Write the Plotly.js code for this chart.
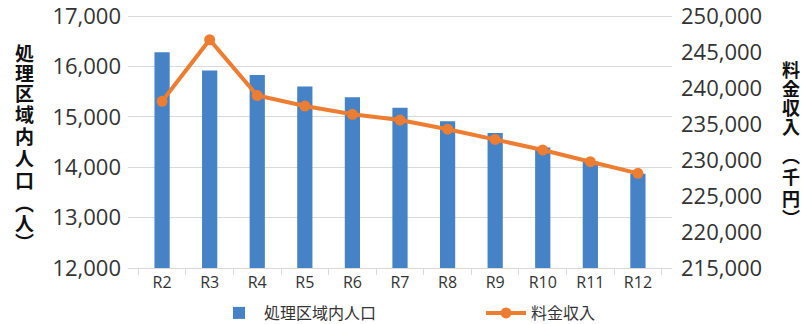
<!DOCTYPE html>
<html><head><meta charset="utf-8">
<script src="https://cdn.plot.ly/plotly-3.0.1.min.js"></script>
<style>html,body{margin:0;padding:0;background:#fff}#chart{width:802px;height:324px}</style>
</head><body><div id="chart"></div>
<script>
const categories = ['R2','R3','R4','R5','R6','R7','R8','R9','R10','R11','R12'];
const population = [16280,15920,15830,15600,15390,15180,14910,14680,14390,14120,13870];
const revenue = [238150,246700,238950,237500,236350,235550,234280,232850,231390,229760,228150];
const popTicks = [12000,13000,14000,15000,16000,17000];
const revTicks = [215000,220000,225000,230000,235000,240000,245000,250000];
const popName = '処理区域内人口';
const revName = '料金収入';
const leftTitle = ['処','理','区','域','内','人','口','︵','人','︶'];
const rightTitle = ['料','金','収','入','︵','千','円','︶'];

const cjk = '"Noto Sans CJK JP", "Noto Sans", sans-serif';
const latin = '"Open Sans", "Noto Sans", sans-serif';

const W = 802, H = 324, mL = 128, mR = 130, mT = 13, mB = 56;
const plotW = W - mL - mR, plotH = H - mT - mB;
const span1 = 5000 * plotH / 252, span2 = 35000 * plotH / 252;
const toPX = px => (px - mL) / plotW;
const toPY = py => (H - mB - py) / plotH;

// vertical title character cell centres (pixels from top)
const leftPos = [52.5, 72.5, 92.5, 113, 135, 157, 179, 202, 222, 241];
const rightPos = [69, 88.5, 107, 125.5, 155, 176.5, 198, 217];

const traces = [
  {type:'bar', x:categories, y:population, name:popName, marker:{color:'#4682c6'}, yaxis:'y'},
  {type:'scatter', mode:'lines+markers', x:categories, y:revenue, name:revName, yaxis:'y2',
   line:{color:'#ed7d31', width:4}, marker:{color:'#ed7d31', size:11}}
];

const annotations = [];
leftTitle.forEach((ch, i) => annotations.push({
  xref:'paper', yref:'paper', x:toPX(24), y:toPY(leftPos[i]),
  xanchor:'center', yanchor:'middle', showarrow:false,
  text:'<b>' + ch + '</b>', font:{family:cjk, size:19, color:'#111'}
}));
rightTitle.forEach((ch, i) => annotations.push({
  xref:'paper', yref:'paper', x:toPX(790.5), y:toPY(rightPos[i]),
  xanchor:'center', yanchor:'middle', showarrow:false,
  text:'<b>' + ch + '</b>', font:{family:cjk, size:18, color:'#111'}
}));

const layout = {
  width:W, height:H,
  margin:{l:mL, r:mR, t:mT, b:mB},
  paper_bgcolor:'#fff', plot_bgcolor:'#fff',
  bargap:0.68,
  showlegend:true,
  legend:{orientation:'h', xref:'container', yref:'container', x:214 / W, xanchor:'left',
          y:(H - 313) / H, yanchor:'middle', entrywidth:212,
          font:{family:cjk, size:16, color:'#333'}, itemwidth:40, traceorder:'normal'},
  xaxis:{type:'category', showline:true, linecolor:'#d9d9d9', linewidth:1,
         ticks:'outside', tickson:'boundaries', ticklen:6, tickcolor:'#d9d9d9',
         tickfont:{family:latin, size:16, color:'#333'}, showgrid:false},
  yaxis:{range:[12000, 12000 + span1], tickvals:popTicks, tickformat:',d',
         showgrid:true, gridcolor:'#d9d9d9', ticklabeloverflow:'allow',
         zeroline:false, ticks:'', ticklabelstandoff:6,
         tickfont:{family:latin, size:22, color:'#333'}},
  yaxis2:{range:[215000, 215000 + span2], tickvals:revTicks,
          tickformat:',d', overlaying:'y', side:'right', ticklabeloverflow:'allow',
          showgrid:false, zeroline:false, ticks:'', ticklabelstandoff:8,
          tickfont:{family:latin, size:22, color:'#333'}},
  annotations:annotations
};
Plotly.newPlot('chart', traces, layout, {displayModeBar:false, staticPlot:true});
</script></body></html>
